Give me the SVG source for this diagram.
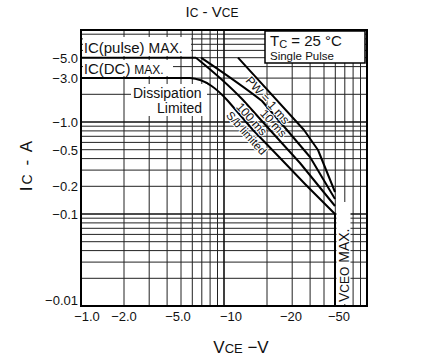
<svg xmlns="http://www.w3.org/2000/svg" width="445" height="360" viewBox="0 0 445 360">
<style>
text{font-family:"Liberation Sans",Arial,sans-serif;fill:#111}
.g{stroke:#222;stroke-width:1;fill:none}
.m{stroke:#111;stroke-width:1.6;fill:none}
.c{stroke:#000;stroke-width:2;fill:none;stroke-linejoin:round}
.tk{font-size:13px;text-anchor:end}
.xt{font-size:13px;text-anchor:middle}
.lb{font-size:14px}
.pw{font-size:12px}
.h{stroke:#fff;stroke-width:2;paint-order:stroke;stroke-linejoin:round}
.bg{fill:#fff;stroke:none}
</style>
<rect width="445" height="360" fill="#fff"/>
<g id="title"><text x="212" y="17" font-size="15" text-anchor="middle">I<tspan font-size="12">C</tspan> - V<tspan font-size="12">CE</tspan></text></g>
<g id="grid">
<path class="g" d="M124,30V306M149.2,30V306M167.1,30V306M181,30V306M192.3,30V306M201.8,30V306M210.1,30V306M217.5,30V306M267,30V306M292.2,30V306M310.1,30V306M324,30V306M335.3,30V306M344.8,30V306M353.1,30V306M360.5,30V306"/>
<path class="g" d="M81,34.2H367M81,38.9H367M81,44.3H367M81,50.4H367M81,57.7H367M81,66.6H367M81,78.1H367M81,94.3H367M81,126.2H367M81,130.9H367M81,136.3H367M81,142.4H367M81,149.7H367M81,158.6H367M81,170.1H367M81,186.3H367M81,218.2H367M81,222.9H367M81,228.3H367M81,234.4H367M81,241.7H367M81,250.6H367M81,262.1H367M81,278.3H367"/>
<path class="m" d="M224,30V306M81,122H367M81,214H367"/>
<rect x="81" y="30" width="286" height="276" fill="none" stroke="#000" stroke-width="2"/>
</g>
<g id="yticks">
<text class="tk" x="78" y="63">−5.0</text>
<text class="tk" x="78" y="83">−3.0</text>
<text class="tk" x="78" y="127">−1.0</text>
<text class="tk" x="78" y="155">−0.5</text>
<text class="tk" x="78" y="191">−0.2</text>
<text class="tk" x="78" y="219">−0.1</text>
<text class="tk" x="78" y="305">−0.01</text>
</g>
<g id="xticks">
<text class="xt" x="87" y="321">−1.0</text>
<text class="xt" x="124" y="321">−2.0</text>
<text class="xt" x="178" y="321">−5.0</text>
<text class="xt" x="231" y="321">−10</text>
<text class="xt" x="291" y="321">−20</text>
<text class="xt" x="339" y="321">−50</text>
</g>
<g id="ylabel"><text x="0" y="0" font-size="17" letter-spacing="2" text-anchor="middle" transform="translate(32,165) rotate(-90)">I<tspan font-size="14">C</tspan> - A</text></g>
<g id="xlabel"><text x="241" y="353" font-size="17" text-anchor="middle">V<tspan font-size="13">CE</tspan> −V</text></g>
<g id="conditions">
<rect x="265" y="31" width="100" height="32" fill="#fff" stroke="#000" stroke-width="1.5"/>
<text x="270" y="46" font-size="15">T<tspan font-size="11" dy="2">C</tspan><tspan dy="-2"> = 25 °C</tspan></text>
<text x="270" y="60" font-size="11.5">Single Pulse</text>
</g>
<g id="connectors">
<path class="c" d="M81,57.7H196"/>
<path class="c" d="M81,78.1H190C206,79 218,90 228,101L253,130L282,160L305,184L335,214V306"/>
<path class="c" d="M196,57.7Q226,82 243,100L270,130L300,163L335,206"/>
<path class="c" d="M201,57.7Q240,84 262,101L287,130L310,157L335,199"/>
<path class="c" d="M238,57.7L304,130L318,150L335,192"/>
</g>
<g id="pulse-label">
<rect class="bg" x="83" y="37" width="108" height="19"/>
<text class="lb" x="84" y="53">I<tspan font-size="15">C(pulse)</tspan> MAX.</text>
</g>
<g id="dc-label">
<rect class="bg" x="83" y="60" width="90" height="16"/>
<text class="lb" x="84" y="74">I<tspan font-size="15">C(DC)</tspan> <tspan font-size="12">MAX.</tspan></text>
</g>
<g id="dissipation-label">
<rect class="bg" x="131" y="84" width="76" height="32"/>
<text class="lb" x="133" y="98">Dissipation</text>
<text class="lb" x="157" y="113">Limited</text>
</g>
<g id="pw-labels">
<text class="pw h" transform="translate(244.9,81) rotate(48)">PW = 1 ms</text>
<text class="pw h" transform="translate(259.6,113.9) rotate(48)">10 ms</text>
<text class="pw h" transform="translate(235.5,107.3) rotate(48)">100 ms</text>
<text class="h" font-size="11.5" transform="translate(225.5,115.8) rotate(48)">S/b limited</text>
</g>
<g id="vceo-label">
<rect class="bg" x="336.5" y="202" width="14" height="102"/>
<text class="lb" transform="translate(349,302) rotate(-90)">V<tspan font-size="12">CEO</tspan> MAX.</text>
</g>
</svg>
